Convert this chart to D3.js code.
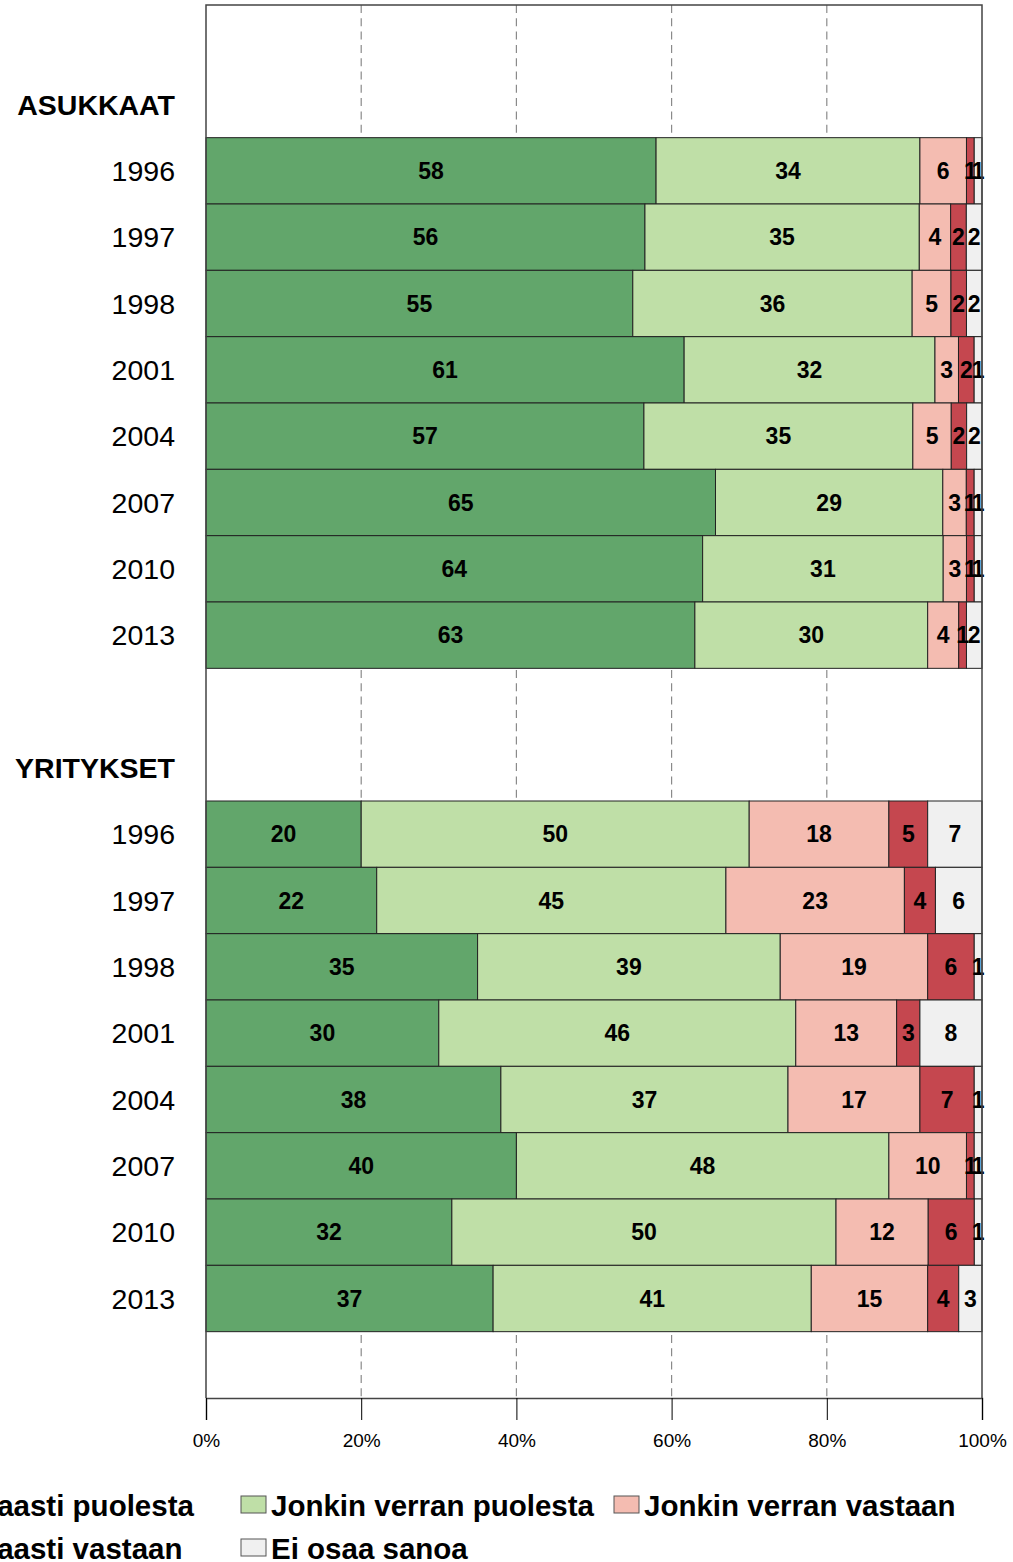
<!DOCTYPE html>
<html>
<head>
<meta charset="utf-8">
<script src="https://cdn.jsdelivr.net/npm/d3@7"></script>
<style>
  body { margin: 0; background: #fff; }
  svg { display: block; font-family: "Liberation Sans", Arial, sans-serif; }
</style>
</head>
<body>
<svg id="chart" width="1013" height="1562"></svg>
<script>
// categories
const groups = ['ASUKKAAT', 'YRITYKSET'];
const years = ['1996', '1997', '1998', '2001', '2004', '2007', '2010', '2013'];
const seriesNames = ['Voimakkaasti puolesta', 'Jonkin verran puolesta', 'Jonkin verran vastaan', 'Voimakkaasti vastaan', 'Ei osaa sanoa'];
const seriesColors = ['#62a66b', '#bfdfa7', '#f4bcb1', '#c5474f', '#f0f0f0'];
const xTicks = [0, 20, 40, 60, 80, 100];

// values per year (order of seriesNames)
const asukkaat = [
    [58, 34, 6, 1, 1],
    [56, 35, 4, 2, 2],
    [55, 36, 5, 2, 2],
    [61, 32, 3, 2, 1],
    [57, 35, 5, 2, 2],
    [65, 29, 3, 1, 1],
    [64, 31, 3, 1, 1],
    [63, 30, 4, 1, 2]
];
const yritykset = [
    [20, 50, 18, 5, 7],
    [22, 45, 23, 4, 6],
    [35, 39, 19, 6, 1],
    [30, 46, 13, 3, 8],
    [38, 37, 17, 7, 1],
    [40, 48, 10, 1, 1],
    [32, 50, 12, 6, 1],
    [37, 41, 15, 4, 3]
];
const groupValues = [asukkaat, yritykset];

// build the row slots: blank, header, years... per group, then a blank at the end
const slots = [];
groups.forEach((g, gi) => {
    slots.push({ key: 'blank' + gi, type: 'blank' });
    slots.push({ key: 'head' + gi, type: 'head', label: g });
    years.forEach((yr, yi) => {
        slots.push({ key: g + yr, type: 'row', label: yr, values: groupValues[gi][yi] });
    });
});
slots.push({ key: 'blankEnd', type: 'blank' });

const svg = d3.select('#chart');
const plotLeft = 206, plotRight = 982, plotTop = 5, plotBottom = 1398;

const x = d3.scaleLinear().domain([0, 100]).range([plotLeft, plotRight]);
const y = d3.scaleBand().domain(slots.map(d => d.key)).range([plotTop, plotBottom]).padding(0);

// dashed grid
svg.append('g')
    .selectAll('line')
    .data(xTicks.filter(t => t > 0 && t < 100))
    .join('line')
    .attr('x1', d => x(d)).attr('x2', d => x(d))
    .attr('y1', plotTop).attr('y2', plotBottom)
    .attr('stroke', '#8a8a8a')
    .attr('stroke-width', 1.2)
    .attr('stroke-dasharray', '8,5.3');

// bars
const rows = slots.filter(d => d.type === 'row');
const rowG = svg.append('g').selectAll('g')
    .data(rows)
    .join('g')
    .attr('transform', d => `translate(0,${y(d.key)})`);

rowG.each(function (d) {
    const total = d3.sum(d.values);
    let acc = 0;
    const segs = d.values.map((v, i) => {
        const s = { v, i, x0: acc / total * 100, x1: (acc + v) / total * 100 };
        acc += v;
        return s;
    });
    const g = d3.select(this);
    g.selectAll('rect')
        .data(segs)
        .join('rect')
        .attr('x', s => x(s.x0))
        .attr('width', s => x(s.x1) - x(s.x0))
        .attr('y', 0)
        .attr('height', y.bandwidth())
        .attr('fill', s => seriesColors[s.i])
        .attr('stroke', '#222')
        .attr('stroke-width', 1);
    g.selectAll('text')
        .data(segs)
        .join('text')
        .attr('x', s => (x(s.x0) + x(s.x1)) / 2)
        .attr('y', y.bandwidth() / 2)
        .attr('dy', '0.36em')
        .attr('text-anchor', 'middle')
        .attr('font-size', 23)
        .attr('font-weight', 'bold')
        .attr('fill', '#000')
        .text(s => s.v);
});

// row labels
svg.append('g').selectAll('text')
    .data(slots.filter(d => d.type !== 'blank'))
    .join('text')
    .attr('x', 175)
    .attr('y', d => y(d.key) + y.bandwidth() / 2)
    .attr('dy', '0.36em')
    .attr('text-anchor', 'end')
    .attr('font-size', 28.5)
    .attr('font-weight', d => d.type === 'head' ? 'bold' : 'normal')
    .attr('fill', '#000')
    .text(d => d.label);

// frame
svg.append('path')
    .attr('d', `M${plotLeft},${plotBottom}V${plotTop}H${plotRight}V${plotBottom}`)
    .attr('fill', 'none')
    .attr('stroke', '#444')
    .attr('stroke-width', 1.5);

// x axis
const axis = svg.append('g')
    .attr('transform', `translate(0,${plotBottom})`)
    .call(d3.axisBottom(x).tickValues(xTicks).tickSize(22).tickPadding(14).tickFormat(d => d + '%'));
axis.select('.domain').attr('stroke', '#444').attr('stroke-width', 1.5);
axis.selectAll('.tick line').attr('stroke', '#000');
axis.selectAll('.tick text')
    .attr('font-family', '"Liberation Sans", Arial, sans-serif')
    .attr('font-size', 19)
    .attr('fill', '#000');

// legend, runs off the left edge like the original
const legendCols = [-152, 241, 614];
const legendRows = [1505, 1548];
const legend = svg.append('g').selectAll('g')
    .data(seriesNames)
    .join('g')
    .attr('transform', (d, i) => `translate(${legendCols[i % 3]},${legendRows[Math.floor(i / 3)]})`);
legend.append('rect')
    .attr('x', 0).attr('y', -9)
    .attr('width', 25).attr('height', 17)
    .attr('fill', (d, i) => seriesColors[i])
    .attr('stroke', '#555')
    .attr('stroke-width', 1);
legend.append('text')
    .attr('x', 30)
    .attr('y', 0)
    .attr('dy', '0.36em')
    .attr('font-size', 29.5)
    .attr('font-weight', 'bold')
    .attr('fill', '#000')
    .text(d => d);
</script>
</body>
</html>
